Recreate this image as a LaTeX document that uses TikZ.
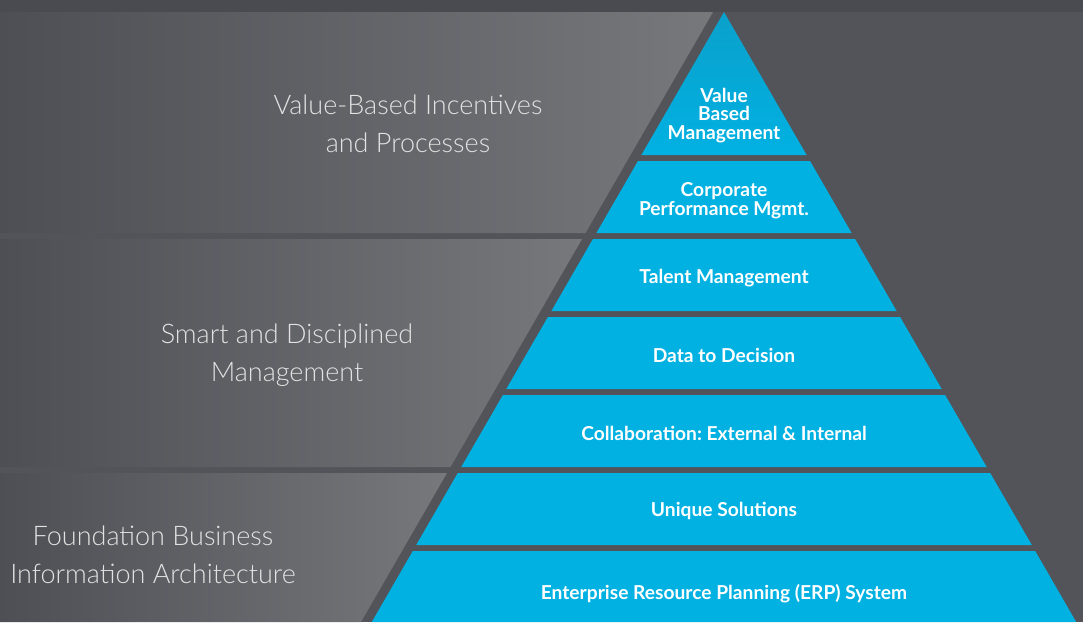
\documentclass[tikz,border=0pt]{standalone}
\usepackage{fontspec}
\setmainfont{Lato}
\newfontfamily\lightfont{Lato Light}
\frenchspacing
\definecolor{bgmain}{HTML}{535459}
\definecolor{bgdark}{HTML}{4E4F54}
\definecolor{bgtop}{HTML}{4A4B50}
\definecolor{panellight}{HTML}{77787C}
\definecolor{pyr}{HTML}{00B1E2}
\definecolor{pyrtop}{HTML}{0BA0CB}
\definecolor{labelgray}{HTML}{E2E2E2}
\tikzset{
  panel/.style={left color=bgdark, right color=panellight, draw=none},
  band/.style={fill=pyr, draw=none},
  bandtext/.style={text=white, font=\bfseries\fontsize{19.2}{18.6}\selectfont, align=center, inner sep=0pt},
  sidelabel/.style={text=labelgray, font=\lightfont\fontsize{27}{37.8}\selectfont, align=center, inner sep=0pt}
}
\begin{document}
\begin{tikzpicture}[x=1pt,y=-1pt]
\useasboundingbox (0,0) rectangle (1083,622);
% background
\fill[bgmain] (0,0) rectangle (1083,622);
\fill[bgtop] (0,0) rectangle (1083,12);
% left panels
\shade[panel] (0,12) -- (713,12) -- (585.5,233) -- (0,233) -- cycle;
\shade[panel] (0,239) -- (582,239) -- (450.5,467) -- (0,467) -- cycle;
\shade[panel] (0,473) -- (447,473) -- (361,622) -- (0,622) -- cycle;
% pyramid bands
\shade[top color=pyrtop, bottom color=pyr, draw=none] (724,12) -- (806.6,155) -- (641.4,155) -- cycle;
\fill[band] (638.0,161) -- (810.0,161) -- (851.6,233) -- (596.4,233) -- cycle;
\fill[band] (592.9,239) -- (855.1,239) -- (896.6,311) -- (551.4,311) -- cycle;
\fill[band] (547.9,317) -- (900.1,317) -- (941.7,389) -- (506.3,389) -- cycle;
\fill[band] (502.9,395) -- (945.1,395) -- (986.7,467) -- (461.3,467) -- cycle;
\fill[band] (457.8,473) -- (990.2,473) -- (1031.8,545) -- (416.2,545) -- cycle;
\fill[band] (412.8,551) -- (1035.2,551) -- (1076.2,622) -- (371.8,622) -- cycle;
% band texts
\node[bandtext] (t1) at (724,115.5) {Value\\Based\\Management};
\node[bandtext] (t2) at (724,200.5) {Corporate\\Performance Mgmt.};
\node[bandtext] (t3) at (724,278) {Talent Management};
\node[bandtext] (t4) at (724,355) {Data to Decision};
\node[bandtext] (t5) at (724,433) {Collaboration: External \& Internal};
\node[bandtext] (t6) at (724,511) {Unique Solutions};
\node[bandtext] (t7) at (724,594) {Enterprise Resource Planning (ERP) System};
% side labels
\node[sidelabel] (l1) at (408,124) {Value-Based Incentives\\and Processes};
\node[sidelabel] (l2) at (287,355.5) {Smart and Disciplined\\Management};
\node[sidelabel] (l3) at (153,554.5) {Foundation Business\\Information Architecture};
\end{tikzpicture}
\end{document}
